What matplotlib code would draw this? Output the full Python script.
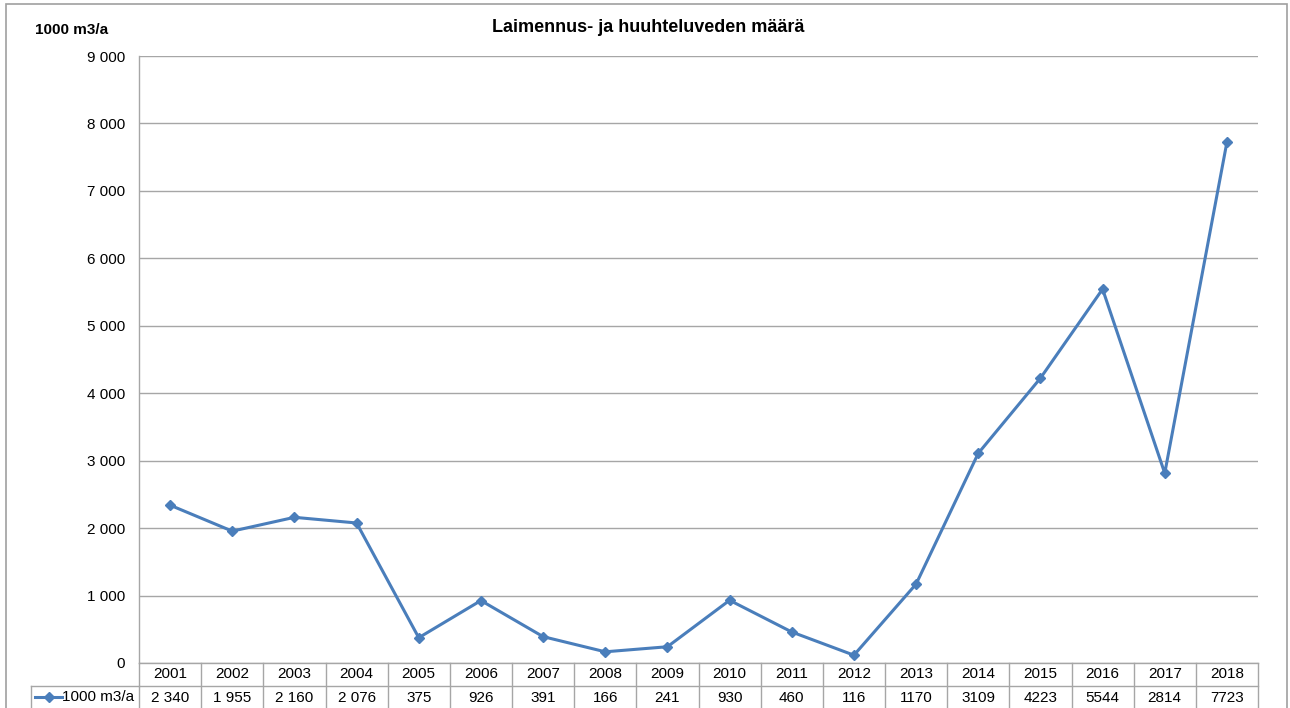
import matplotlib
matplotlib.use("Agg")
import matplotlib.pyplot as plt
from matplotlib.lines import Line2D
from matplotlib.patches import Rectangle
import matplotlib.transforms as mtransforms

years = ["2001", "2002", "2003", "2004", "2005", "2006", "2007", "2008", "2009",
         "2010", "2011", "2012", "2013", "2014", "2015", "2016", "2017", "2018"]
values = [2340, 1955, 2160, 2076, 375, 926, 391, 166, 241, 930, 460, 116,
          1170, 3109, 4223, 5544, 2814, 7723]
value_labels = ["2 340", "1 955", "2 160", "2 076", "375", "926", "391", "166", "241",
                "930", "460", "116", "1170", "3109", "4223", "5544", "2814", "7723"]
series_name = "1000 m3/a"
title = "Laimennus- ja huuhteluveden määrä"
yticks = [0, 1000, 2000, 3000, 4000, 5000, 6000, 7000, 8000, 9000]

plt.rcParams['font.family'] = ['Liberation Sans', 'DejaVu Sans']

W, H = 1290, 708
fig = plt.figure(figsize=(W / 100, H / 100), dpi=100)
ax = fig.add_axes([139 / W, (H - 663) / H, (1258 - 139) / W, (663 - 56) / H])

color = "#4A7EBB"
grid_c = "#a6a6a6"
x = list(range(len(years)))
ax.plot(x, values, color=color, lw=2.2, marker="D", ms=5.5, zorder=3)
ax.set_xlim(-0.5, len(years) - 0.5)
ax.set_ylim(0, 9000)
ax.set_yticks(yticks)
ax.set_yticklabels([f"{v:,}".replace(",", " ") for v in yticks], fontsize=11)
ax.tick_params(axis="y", length=0, pad=10)
ax.set_xticks([])
for v in yticks:
    ax.axhline(v, color=grid_c, lw=1, zorder=1)
for s in ["top", "right", "bottom"]:
    ax.spines[s].set_visible(False)
ax.spines["left"].set_color(grid_c)
ax.spines["left"].set_linewidth(1)

# data table
ax_h = 663 - 56
row_h = 23 / ax_h
trans = mtransforms.blended_transform_factory(ax.transData, ax.transAxes)
tc = "#a6a6a6"
n = len(years)
for yy in [0, -row_h, -2 * row_h]:
    ax.add_line(Line2D([-0.5, n - 0.5], [yy, yy], transform=trans, color=tc, lw=1, clip_on=False))
for i in range(n + 1):
    ax.add_line(Line2D([i - 0.5, i - 0.5], [0, -2 * row_h], transform=trans, color=tc, lw=1, clip_on=False))
for i, (yr, lab) in enumerate(zip(years, value_labels)):
    ax.text(i, -row_h / 2, yr, transform=trans, ha="center", va="center", fontsize=11, clip_on=False)
    ax.text(i, -1.5 * row_h, lab, transform=trans, ha="center", va="center", fontsize=11, clip_on=False)

# legend cell
fx = lambda px: px / W
fy = lambda py: (H - py) / H
fig.add_artist(Line2D([fx(31), fx(139)], [fy(686), fy(686)], color=tc, lw=1))
fig.add_artist(Line2D([fx(31), fx(139)], [fy(709), fy(709)], color=tc, lw=1))
fig.add_artist(Line2D([fx(31), fx(31)], [fy(686), fy(709)], color=tc, lw=1))
fig.add_artist(Line2D([fx(35), fx(62)], [fy(697), fy(697)], color=color, lw=2.2))
fig.add_artist(Line2D([fx(48.5)], [fy(697)], color=color, marker="D", ms=5.5))
fig.text(fx(62), fy(697), series_name, ha="left", va="center", fontsize=11)

# titles
fig.text(fx(648), fy(27), title, ha="center", va="center", fontsize=13, fontweight="bold")
fig.text(fx(35), fy(30), series_name, ha="left", va="center", fontsize=11, fontweight="bold")

# outer border
fig.add_artist(Rectangle((fx(6), fy(712)), fx(1287) - fx(6), fy(4) - fy(712),
                         fill=False, edgecolor="#a0a0a0", lw=1.2, transform=fig.transFigure))

fig.savefig("out.png", dpi=100, facecolor="white")
